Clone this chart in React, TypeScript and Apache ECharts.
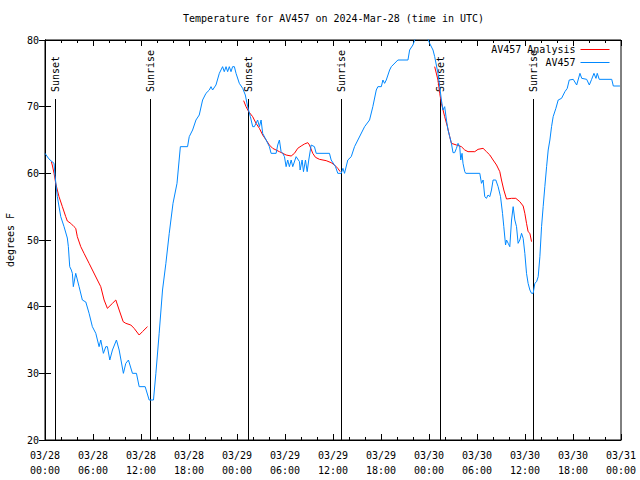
import React, { useEffect, useRef } from "react";
import * as echarts from "echarts";

// Hours since 2024-03-28 00:00 UTC, temperature in degrees F
const observed: [number, number][] = [
  [0, 63], [0.41, 62.3], [0.63, 62], [1.13, 61.5], [1.25, 59.7], [1.54, 56.5], [1.97, 53.5],
  [2.38, 52], [2.79, 50.3], [2.92, 49], [3.09, 46], [3.29, 45.5], [3.42, 45], [3.54, 43],
  [3.84, 45], [4.26, 43], [4.67, 41], [5.1, 40.7], [5.51, 39], [5.92, 37], [6.35, 36],
  [6.76, 34], [6.97, 35], [7.3, 33], [7.6, 34], [7.8, 34], [8.1, 32], [8.43, 33.5],
  [8.93, 35], [9.27, 33.5], [9.8, 30], [10.1, 31.5], [10.43, 32], [10.93, 30], [11.43, 30],
  [11.77, 28], [12.52, 28], [13.02, 26], [13.56, 26], [13.86, 30], [14.27, 36], [14.69, 42.5],
  [15.11, 46.5], [15.53, 51], [16.0, 55.5], [16.5, 58.5], [16.92, 64], [17.82, 64],
  [18.03, 65.5], [18.45, 66.5], [18.87, 68], [19.28, 68.75], [19.7, 71], [20.12, 72],
  [20.54, 72.5], [20.75, 73], [20.95, 72.5], [21.37, 73.25], [21.79, 75], [22.2, 76],
  [22.41, 75.25], [22.63, 76], [22.83, 75.25], [23.04, 76], [23.25, 75.25], [23.45, 76],
  [23.67, 76], [23.88, 75], [24.29, 73.5], [24.71, 72.75], [25.04, 71.75], [25.33, 70],
  [25.67, 68.5], [25.96, 67], [26.17, 67], [26.58, 68], [26.8, 67], [27.01, 68], [27.21, 66],
  [27.64, 65], [28.05, 64], [28.26, 63], [28.89, 63], [29.09, 64.25], [29.3, 65],
  [29.51, 63.25], [29.72, 63], [29.93, 62.5], [30.14, 61], [30.34, 62], [30.55, 61],
  [30.77, 62], [30.97, 61], [31.39, 62.5], [31.81, 61.75], [31.89, 60.5], [32.14, 62],
  [32.31, 60.25], [32.56, 62], [32.77, 60.25], [32.97, 62], [33.27, 64.25], [33.68, 64],
  [33.9, 63], [35.56, 63], [35.77, 62], [36.31, 61], [36.6, 60], [37.03, 60], [37.24, 60.75],
  [37.44, 60], [37.85, 62], [38.28, 62.5], [38.69, 64], [39.11, 65], [39.95, 67], [40.57, 68],
  [40.98, 70], [41.41, 72.5], [41.61, 73], [42.04, 73], [42.24, 74], [42.45, 73.5],
  [42.66, 74], [43.08, 75.5], [43.29, 76], [44.11, 77], [45.37, 77], [45.58, 78.5],
  [45.99, 79.25], [46.21, 80], [46.83, 81], [47.58, 81], [48.08, 79.5], [48.5, 78.5],
  [48.71, 77.5], [49.12, 75], [49.34, 73], [49.55, 71], [49.75, 69.5], [49.96, 70],
  [50.18, 68], [50.38, 66.5], [50.59, 65.5], [50.8, 64.5], [51.0, 63.1], [51.21, 63.1],
  [51.43, 63.75], [51.63, 64.5], [51.84, 64], [51.97, 62], [52.13, 63], [52.25, 61.5],
  [52.47, 60.25], [52.59, 60], [54.35, 60], [54.56, 58.5], [54.76, 59], [54.97, 56.5],
  [55.18, 56.25], [55.38, 56.75], [55.6, 56.5], [55.81, 57.5], [56.01, 59], [56.35, 59],
  [56.64, 58], [56.94, 56.5], [57.19, 54], [57.35, 52], [57.57, 49.25], [57.69, 50],
  [57.9, 49.5], [58.1, 49], [58.32, 53], [58.52, 55], [58.73, 53], [58.94, 52], [59.14, 49.5],
  [59.35, 50], [59.57, 51], [59.77, 50.25], [59.98, 48], [60.19, 45], [60.39, 43.5],
  [60.61, 42.5], [60.82, 42], [61.02, 42], [61.23, 43.5], [61.45, 43.75], [61.65, 44.5],
  [61.86, 47.5], [62.07, 52], [62.27, 55], [62.48, 58], [62.7, 61], [62.9, 63.5], [63.11, 65],
  [63.32, 67], [63.52, 68.5], [63.86, 69.75], [64.15, 71], [64.57, 71.25], [64.99, 72.25],
  [65.28, 72.75], [65.53, 74], [66.03, 74.1], [66.46, 73.25], [66.87, 75], [67.09, 74.25],
  [67.71, 74.1], [68.04, 73.25], [68.33, 74.1], [68.62, 75], [68.87, 74.25], [69.03, 75],
  [69.28, 74.1], [70.84, 74.1], [71.04, 73.1], [71.87, 73.1],
];

const analysisNight1: [number, number][] = [
  [0.79, 61.75], [0.91, 61.25], [1.13, 60], [1.34, 58.5], [1.54, 57.5], [1.75, 56.5],
  [2.17, 55], [2.59, 53.5], [2.79, 52.85], [3.22, 52.5], [3.63, 52], [3.84, 51.75],
  [4.04, 50.5], [4.47, 49], [4.88, 48], [5.51, 46.5], [6.55, 44], [6.97, 43], [7.39, 41],
  [7.8, 39.75], [8.43, 40.5], [8.85, 41], [9.27, 39.5], [9.77, 37.75], [10.1, 37.5],
  [10.73, 37.25], [11.14, 36.75], [11.77, 35.75], [12.18, 36.25], [12.81, 37],
];
const analysisNight2: [number, number][] = [
  [24.83, 70.9], [25.13, 70], [25.46, 69.25], [25.96, 68.5], [26.38, 67.5], [26.8, 66.75],
  [27.21, 65.75], [27.64, 65], [28.05, 64.25], [28.46, 63.75], [29.3, 63.25], [30.14, 62.75],
  [30.77, 62.6], [31.18, 63], [31.59, 63.75], [32.02, 64.1], [32.43, 64.4], [32.85, 64.6],
  [33.06, 64.25], [33.47, 63], [33.81, 62.4], [34.31, 62.1], [35.15, 61.9], [35.77, 61.6],
  [36.19, 61.25], [36.6, 60.75], [36.9, 60.25],
];
const analysisNight3: [number, number][] = [
  [48.71, 76], [49.12, 74], [49.34, 72], [49.55, 70.5], [49.96, 68.5], [50.3, 67],
  [50.59, 65.5], [50.8, 64.5], [51.43, 64.25], [52.05, 64], [52.47, 63.5], [52.88, 63.25],
  [53.72, 63.25], [54.13, 63.6], [54.76, 63.75], [55.18, 63.25], [55.6, 62.75], [56.01, 62],
  [56.44, 61.25], [56.85, 60.25], [57.06, 59], [57.35, 57.5], [57.69, 56.15], [58.32, 56.25],
  [58.85, 56.25], [59.35, 55.75], [59.77, 55.1], [59.98, 54], [60.19, 52.5], [60.39, 51.25],
  [60.61, 51], [60.82, 49.75],
];

const sunEventHours = [1.31, 13.11, 25.33, 36.94, 49.37, 61.02];
const sunEventNames = ["Sunset", "Sunrise", "Sunset", "Sunrise", "Sunset", "Sunrise"];
const sunLineTop = 71.15;

const yMin = 20;
const yMax = 80;
const xMin = 0;
const xMax = 72;
const xInterval = 6;
const yInterval = 10;

const FONT = "DejaVu Sans Mono";

function fmtHour(v: number): string {
  const day = 28 + Math.floor(v / 24);
  const hh = Math.round(v % 24);
  return "03/" + String(day).padStart(2, "0") + "\n" + String(hh).padStart(2, "0") + ":00";
}

export default function App() {
  const ref = useRef<HTMLDivElement>(null);
  useEffect(() => {
    if (!ref.current) return;
    const chart = echarts.init(ref.current, null, { renderer: "svg" });
    const analysis: any[] = [
      ...analysisNight1,
      [(analysisNight1[analysisNight1.length - 1][0] + analysisNight2[0][0]) / 2, "-"],
      ...analysisNight2,
      [(analysisNight2[analysisNight2.length - 1][0] + analysisNight3[0][0]) / 2, "-"],
      ...analysisNight3,
    ];
    const xBase = {
      type: "value",
      min: xMin,
      max: xMax,
      interval: xInterval,
      splitLine: { show: false },
      axisLine: { show: true, lineStyle: { color: "#000", width: 1 } },
      axisTick: { show: true, inside: true, length: 6, lineStyle: { color: "#000" } },
      minorTick: { show: true, splitNumber: 3, length: 3, lineStyle: { color: "#000" } },
      minorSplitLine: { show: false },
    };
    const yBase = {
      type: "value",
      min: yMin,
      max: yMax,
      interval: yInterval,
      splitLine: { show: false },
      axisLine: { show: true, lineStyle: { color: "#000", width: 1 } },
      axisTick: { show: true, inside: true, length: 6, lineStyle: { color: "#000" } },
    };
    chart.setOption({
      animation: false,
      backgroundColor: "#fff",
      textStyle: { fontFamily: FONT },
      title: {
        text: "Temperature for AV457 on 2024-Mar-28 (time in UTC)",
        left: 183,
        top: 13,
        padding: 0,
        textStyle: { fontFamily: FONT, fontSize: 10, fontWeight: "normal", color: "#000" },
      },
      legend: {
        orient: "vertical",
        align: "right",
        right: 30,
        top: 43,
        padding: 0,
        itemGap: 0,
        itemWidth: 29,
        itemHeight: 13,
        itemStyle: { opacity: 0, color: "transparent", borderWidth: 0 },
        lineStyle: { width: 1 },
        textStyle: { fontFamily: FONT, fontSize: 10, color: "#000", lineHeight: 13 },
        data: ["AV457 Analysis", "AV457"],
      },
      grid: {
        left: 45,
        right: 19,
        top: 40,
        bottom: 40,
        show: true,
        borderColor: "#000",
        borderWidth: 1,
        containLabel: false,
        outerBoundsMode: "none",
      },
      xAxis: [
        {
          ...xBase,
          position: "bottom",
          axisLabel: {
            show: true,
            margin: 8,
            fontFamily: FONT,
            fontSize: 10,
            lineHeight: 15,
            color: "#000",
            formatter: (v: number) => fmtHour(v),
          },
        },
        { ...xBase, position: "top", axisLabel: { show: false } },
      ],
      yAxis: [
        {
          ...yBase,
          position: "left",
          name: "degrees F",
          nameLocation: "middle",
          nameGap: 30,
          nameRotate: 90,
          nameTextStyle: { fontFamily: FONT, fontSize: 10, color: "#000" },
          axisLabel: { show: true, margin: 6, fontFamily: FONT, fontSize: 10, color: "#000" },
        },
        { ...yBase, position: "right", axisLabel: { show: false } },
      ],
      series: [
        {
          type: "custom",
          name: "sun",
          xAxisIndex: 0,
          yAxisIndex: 0,
          silent: true,
          data: sunEventHours.map((h) => [h, sunLineTop]),
          renderItem: (params: any, api: any) => {
            const h = api.value(0);
            const top = api.coord([h, api.value(1)]);
            const bottom = api.coord([h, yMin]);
            const x = Math.round(top[0]) + 0.5;
            return {
              type: "group",
              children: [
                {
                  type: "line",
                  shape: { x1: x, y1: top[1], x2: x, y2: bottom[1] },
                  style: { stroke: "#000", lineWidth: 1 },
                },
                {
                  type: "text",
                  x: x,
                  y: top[1] - 7,
                  rotation: Math.PI / 2,
                  style: {
                    text: sunEventNames[params.dataIndex],
                    fill: "#000",
                    font: "10px " + FONT,
                    align: "left",
                    verticalAlign: "middle",
                  },
                },
              ],
            };
          },
        },
        {
          type: "line",
          name: "AV457 Analysis",
          data: analysis,
          symbol: "none",
          showSymbol: false,
          connectNulls: false,
          lineStyle: { color: "#ff0000", width: 1 },
          itemStyle: { color: "#ff0000" },
        },
        {
          type: "line",
          name: "AV457",
          data: observed,
          symbol: "none",
          showSymbol: false,
          lineStyle: { color: "#0088ff", width: 1 },
          itemStyle: { color: "#0088ff" },
        },
      ],
    });
    return () => chart.dispose();
  }, []);
  return <div ref={ref} style={{ width: 640, height: 480, position: "absolute", left: 0, top: 0 }} />;
}
